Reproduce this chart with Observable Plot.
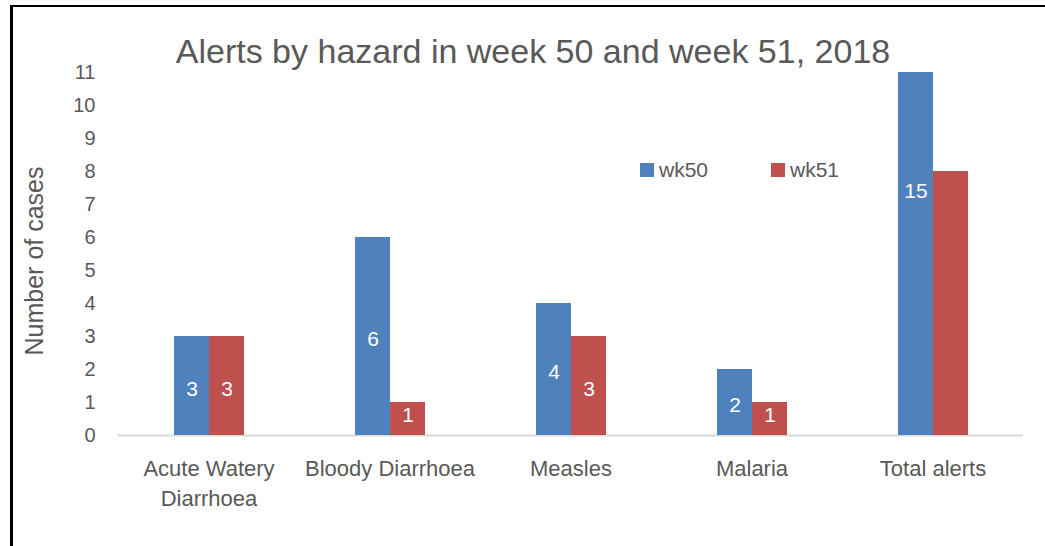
<!DOCTYPE html>
<html>
<head>
<meta charset="utf-8">
<script src="https://cdn.jsdelivr.net/npm/d3@7"></script>
<script src="https://cdn.jsdelivr.net/npm/@observablehq/plot@0.6"></script>
<style>
  html, body { margin: 0; padding: 0; background: #fff; }
  #wrap { position: relative; width: 1045px; height: 546px; overflow: hidden; background: #fff; }
  #border { position: absolute; left: 10px; top: 5px; width: 1200px; height: 700px;
            border-left: 3px solid #000; border-top: 2.5px solid #000; pointer-events: none; }
  #wrap svg { position: absolute; left: 0; top: 0; }
</style>
</head>
<body>
<div id="wrap"><div id="border"></div></div>
<script>
const title = "Alerts by hazard in week 50 and week 51, 2018";
const yLabel = "Number of cases";
const categories = ["Acute Watery Diarrhoea", "Bloody Diarrhoea", "Measles", "Malaria", "Total alerts"];
const categoryLabels = ["Acute Watery\nDiarrhoea", "Bloody Diarrhoea", "Measles", "Malaria", "Total alerts"];
const weeks = ["wk50", "wk51"];
const wk50 = [3, 6, 4, 2, 15];
const wk51 = [3, 1, 3, 1, 8];
const labels50 = [3, 6, 4, 2, 15];
const labels51 = [3, 1, 3, 1, null];
const colors = ["#4F81BD", "#C0504D"];
const yTicks = [0, 1, 2, 3, 4, 5, 6, 7, 8, 9, 10, 11];

const data = categories.flatMap((c, i) => [
  {category: c, week: weeks[0], value: wk50[i], label: labels50[i]},
  {category: c, week: weeks[1], value: wk51[i], label: labels51[i]}
]);

const font = "'Liberation Sans', Arial, sans-serif";

const chart = Plot.plot({
  width: 1045,
  height: 546,
  marginLeft: 117,
  marginRight: 21,
  marginTop: 72,
  marginBottom: 111,
  style: {fontFamily: font, fontSize: "20px", color: "#595959", background: "transparent"},
  fx: {domain: categories, paddingInner: 0, paddingOuter: 0, axis: null, label: null},
  x: {domain: weeks, paddingInner: 0, paddingOuter: 1.52, axis: null},
  y: {domain: [0, 11], ticks: yTicks, tickSize: 0, tickPadding: 23, label: null, clamp: true},
  color: {domain: weeks, range: colors},
  marks: [
    Plot.ruleY([0], {stroke: "#d9d9d9", strokeWidth: 2}),
    Plot.barY(data, {fx: "category", x: "week", y: "value", fill: "week"}),
    Plot.text(data.filter(d => d.label != null), {
      fx: "category", x: "week",
      y: d => Math.max(d.value / 2, 0.7),
      text: d => String(d.label),
      fill: "white", fontSize: 21, dy: 3
    }),
    Plot.text(categories, {
      fx: d => d,
      text: (d, i) => categoryLabels[i],
      frameAnchor: "bottom", lineAnchor: "top", dy: 19,
      fontSize: 22, lineHeight: 1.36, fill: "#595959"
    })
  ]
});

const svg = d3.select(chart);
svg.append("text")
  .attr("x", 533).attr("y", 63)
  .attr("text-anchor", "middle")
  .attr("font-family", font).attr("font-size", 34).attr("fill", "#595959")
  .text(title);

svg.append("text")
  .attr("transform", "translate(43,261) rotate(-90)")
  .attr("text-anchor", "middle")
  .attr("font-family", font).attr("font-size", 25).attr("fill", "#595959")
  .text(yLabel);

const legendX = [640, 771];
const lg = svg.append("g");
weeks.forEach((w, i) => {
  lg.append("rect").attr("x", legendX[i]).attr("y", 163).attr("width", 14).attr("height", 14).attr("fill", colors[i]);
  lg.append("text").attr("x", legendX[i] + 19).attr("y", 177)
    .attr("text-anchor", "start")
    .attr("font-family", font).attr("font-size", 21).attr("fill", "#595959").text(w);
});

document.getElementById("wrap").insertBefore(chart, document.getElementById("border"));
</script>
</body>
</html>
